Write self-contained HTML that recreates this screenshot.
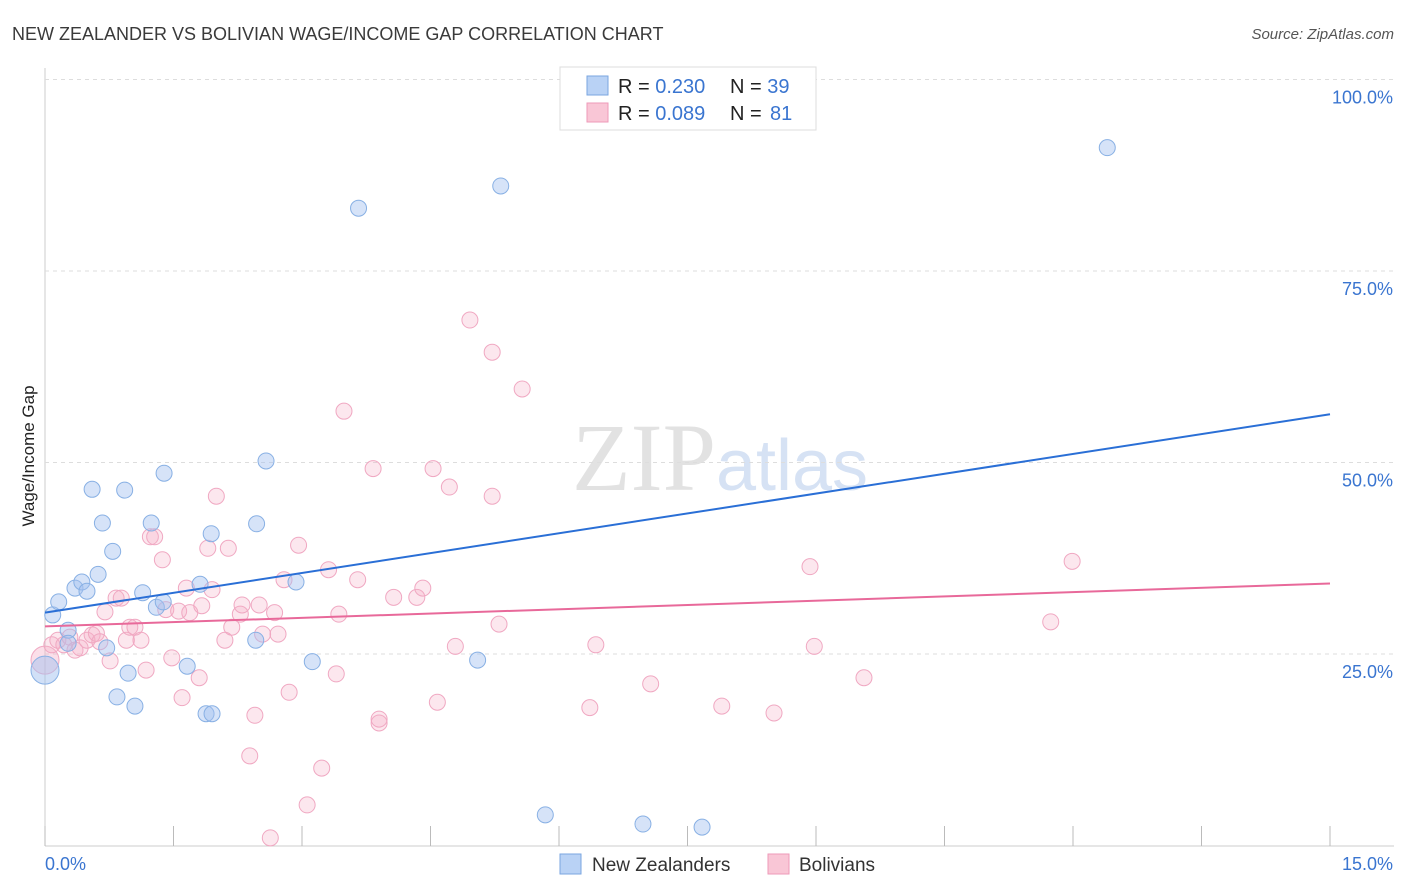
<!DOCTYPE html>
<html><head><meta charset="utf-8"><style>
body{margin:0;background:#fff;font-family:"Liberation Sans",sans-serif}
svg{display:block}
</style></head><body>
<svg id="chart" width="1406" height="892">
<text x="12" y="40" font-size="18" fill="#3a3a3a">NEW ZEALANDER VS BOLIVIAN WAGE/INCOME GAP CORRELATION CHART</text>
<text x="1394" y="39" font-size="15" fill="#555" text-anchor="end" font-style="italic">Source: ZipAtlas.com</text>
<text x="720" y="490" font-size="96" fill="#e2e2e2" text-anchor="middle" font-family="Liberation Serif,serif">ZIP<tspan fill="#d6e2f4" font-family="Liberation Sans,sans-serif" font-size="72">atlas</tspan></text>
<text transform="translate(34,456) rotate(-90)" font-size="17" fill="#222" text-anchor="middle">Wage/Income Gap</text>
<g id="grid"></g><g id="pts"></g><g id="lines"></g>
<g>
<rect x="560" y="67" width="256" height="63" fill="#fff" stroke="#ddd"/>
<rect x="587" y="76" width="21" height="19" fill="#b9d2f5" stroke="#7aa6e0"/>
<rect x="587" y="103" width="21" height="19" fill="#f9c6d6" stroke="#ee9ab8"/>
<text x="618" y="93" font-size="20" fill="#222">R = <tspan fill="#3a75d0">0.230</tspan><tspan x="730">N = </tspan><tspan fill="#3a75d0">39</tspan></text>
<text x="618" y="120" font-size="20" fill="#222">R = <tspan fill="#3a75d0">0.089</tspan><tspan x="730">N = </tspan><tspan fill="#3a75d0" x="770">81</tspan></text>
</g>
<g>
<rect x="560" y="854" width="21" height="20" fill="#b9d2f5" stroke="#7aa6e0"/>
<text x="592" y="871" font-size="19" fill="#333">New Zealanders</text>
<rect x="768" y="854" width="21" height="20" fill="#f9c6d6" stroke="#ee9ab8"/>
<text x="799" y="871" font-size="19" fill="#333">Bolivians</text>
</g>
<text x="45" y="870" font-size="18" fill="#3a75d0">0.0%</text>
<text x="1393" y="870" font-size="18" fill="#3a75d0" text-anchor="end">15.0%</text>
</svg>
<script>
const yTicks=[25,50,75,100];
const yTickLabels=["25.0%","50.0%","75.0%","100.0%"];
const xTicks=[0,1.5,3,4.5,6,7.5,9,10.5,12,13.5,15];
const blueX=[0.09,0.16,0.27,0.35,0.43,0.49,0.55,0.62,0.67,0.72,0.79,0.84,0.93,0.97,1.05,1.14,1.24,1.30,1.38,1.39,1.66,1.81,1.88,1.95,1.94,2.47,2.46,2.58,2.93,3.12,3.66,5.05,5.32,5.84,6.98,7.67,12.40,0.27];
const blueY=[30.1,31.8,28.1,33.6,34.4,33.2,46.5,35.4,42.1,25.8,38.4,19.4,46.4,22.5,18.2,33.0,42.1,31.1,31.8,48.6,23.4,34.1,17.2,17.2,40.7,42.0,26.8,50.2,34.4,24.0,83.2,24.2,86.1,4.0,2.8,2.4,91.1,26.4];
const pinkX=[0.08,0.15,0.22,0.29,0.35,0.41,0.49,0.55,0.60,0.64,0.70,0.76,0.83,0.89,0.95,0.99,1.05,1.12,1.18,1.23,1.28,1.37,1.41,1.48,1.56,1.60,1.65,1.69,1.80,1.83,1.90,1.95,2.00,2.10,2.14,2.18,2.28,2.30,2.45,2.39,2.50,2.54,2.63,2.68,2.72,2.79,2.85,2.96,3.06,3.23,3.31,3.40,3.43,3.49,3.65,3.83,3.90,3.90,4.07,4.34,4.41,4.53,4.58,4.72,4.79,4.96,5.22,5.22,5.30,5.57,6.36,6.43,7.07,7.90,8.51,8.93,8.98,9.56,11.74,11.99];
const pinkY=[26.2,26.8,26.2,27.2,25.5,25.8,26.8,27.5,27.7,26.6,30.5,24.1,32.3,32.3,26.8,28.5,28.5,26.8,22.9,40.3,40.3,37.3,30.8,24.5,30.6,19.3,33.6,30.4,21.9,31.3,38.8,33.4,45.6,26.8,38.8,28.5,30.2,31.4,17.0,11.7,31.4,27.6,1.0,30.4,27.6,34.7,20.0,39.2,5.3,10.1,36.0,22.4,30.2,56.7,34.7,49.2,16.0,16.5,32.4,32.4,33.6,49.2,18.7,46.8,26.0,68.6,64.4,45.6,28.9,59.6,18.0,26.2,21.1,18.2,17.3,36.4,26.0,21.9,29.2,37.1];
const bigBlue=[0,22.9], bigPink=[0,24.2];
const blueLine=[30.4,56.3], pinkLine=[28.6,34.2];
const X=v=>45+v/15*1285, Y=v=>845.5-v/25*191.5;
const NS="http://www.w3.org/2000/svg";
function mk(t,a,p){const e=document.createElementNS(NS,t);for(const k in a)e.setAttribute(k,a[k]);p.appendChild(e);return e;}
const grid=document.getElementById('grid');
mk('line',{x1:45,y1:68,x2:45,y2:846,stroke:'#ccc'},grid);
mk('line',{x1:45,y1:846,x2:1394,y2:846,stroke:'#ccc'},grid);
yTicks.forEach((t,i)=>{
 const l=mk('line',{x1:45,y1:Y(t),x2:1394,y2:Y(t),stroke:'#ddd','stroke-dasharray':'4,4'},grid);
 
 
 const tx=mk('text',{x:1393,y:Y(t)+24,'font-size':18,fill:'#3a75d0','text-anchor':'end'},grid);
 tx.textContent=yTickLabels[i];
 
 
});
xTicks.forEach(t=>{
 const l=mk('line',{x1:X(t),y1:826,x2:X(t),y2:846,stroke:'#bbb'},grid);
 
 
});
const pts=document.getElementById('pts');
function dot(x,y,r,f,s,name){const c=mk('circle',{cx:X(x),cy:Y(y),r:r,fill:f,stroke:s,'stroke-width':1},pts);
 
 }
dot(bigPink[0],bigPink[1],14,'rgba(244,176,200,0.4)','#f0a8c2','bolivian-point');
dot(bigBlue[0],bigBlue[1],14,'rgba(164,194,240,0.5)','#88b0e4','new-zealander-point');
pinkX.forEach((x,i)=>dot(x,pinkY[i],8,'rgba(244,176,200,0.3)','#f0a8c2','bolivian-point'));
blueX.forEach((x,i)=>dot(x,blueY[i],8,'rgba(164,194,240,0.45)','#88b0e4','new-zealander-point'));
const lines=document.getElementById('lines');
const bl=mk('line',{x1:X(0),y1:Y(blueLine[0]),x2:X(15),y2:Y(blueLine[1]),stroke:'#2a6fd6','stroke-width':2},lines);


const pl=mk('line',{x1:X(0),y1:Y(pinkLine[0]),x2:X(15),y2:Y(pinkLine[1]),stroke:'#e8699a','stroke-width':2},lines);


</script>
</body></html>
